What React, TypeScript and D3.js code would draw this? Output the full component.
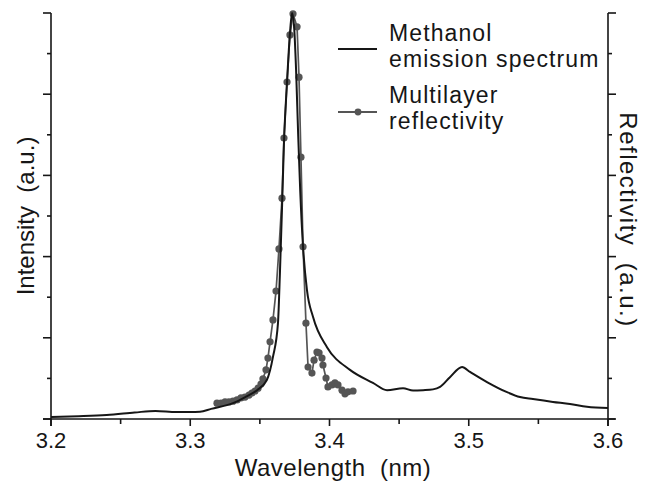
import React, { useEffect } from "react";
import * as d3 from "d3";

// methanol emission spectrum (wavelength nm, intensity a.u.)
const emissionWl = [
  3.2, 3.22, 3.24, 3.26, 3.275, 3.29, 3.3, 3.307, 3.315, 3.3307, 3.34, 3.348,
  3.355, 3.3594, 3.363, 3.3644, 3.3659, 3.3673, 3.3695, 3.3716, 3.3731, 3.3745,
  3.376, 3.3775, 3.379, 3.381, 3.3838, 3.3882, 3.3982, 3.4147, 3.4312, 3.4413,
  3.4528, 3.46, 3.4672, 3.4743, 3.4794, 3.4865, 3.4952, 3.5009, 3.5131,
  3.5275, 3.5368, 3.5461, 3.5605, 3.5727, 3.5849, 3.6,
];
const emissionVal = [
  0.05, 0.07, 0.1, 0.16, 0.2, 0.17, 0.17, 0.18, 0.25, 0.39, 0.55, 0.71,
  0.96, 1.53, 2.36, 3.6, 5.2, 6.8, 8.3, 9.5, 10.0, 9.7,
  8.6, 7.0, 5.6, 4.24, 3.18, 2.51, 1.77, 1.21, 0.89, 0.71,
  0.76, 0.7, 0.71, 0.73, 0.79, 1.03, 1.28, 1.16, 0.91,
  0.66, 0.54, 0.49, 0.42, 0.37, 0.3, 0.27,
];

// multilayer reflectivity (wavelength nm, reflectivity a.u.)
const reflWl = [
  3.3192, 3.3221, 3.325, 3.3278, 3.3307, 3.3336, 3.3364, 3.3393, 3.3422, 3.3443,
  3.3465, 3.3487, 3.3508, 3.3522, 3.3544, 3.3558, 3.3573, 3.3594, 3.3616, 3.3637,
  3.3659, 3.3673, 3.3695, 3.3716, 3.3738, 3.3767, 3.3781, 3.3795, 3.381, 3.3831,
  3.3846, 3.3874, 3.3889, 3.391, 3.3925, 3.3946, 3.3953, 3.3975, 3.3989, 3.4018,
  3.4039, 3.4061, 3.409, 3.4111, 3.4133, 3.4169,
];
const reflVal = [
  0.39, 0.39, 0.42, 0.42, 0.44, 0.47, 0.52, 0.54, 0.59, 0.64,
  0.69, 0.76, 0.86, 0.99, 1.21, 1.5, 1.9, 2.44, 3.15, 4.19,
  5.44, 6.92, 8.3, 9.46, 9.98, 9.66, 8.42, 6.45, 4.24, 2.36,
  1.28, 1.13, 1.45, 1.65, 1.63, 1.5, 1.33, 1.01, 0.79, 0.84,
  0.89, 0.84, 0.71, 0.62, 0.67, 0.69,
];

const xTickLabels = ["3.2", "3.3", "3.4", "3.5", "3.6"];
const legendLabels = [
  ["Methanol", "emission spectrum"],
  ["Multilayer", "reflectivity"],
];

const W = 650;
const H = 482;
const font = "'Liberation Sans', Arial, Helvetica, sans-serif";
const ink = "#161616";
const grey = "#555555";

const App = () => {
  useEffect(() => {
    document.body.style.margin = "0";
  }, []);

  const x = d3.scaleLinear().domain([3.2, 3.6]).range([51, 608]);
  const y = d3.scaleLinear().domain([0, 10]).range([419, 13]);

  const emission = emissionWl.map((w, i) => [w, emissionVal[i]]);
  const refl = reflWl.map((w, i) => [w, reflVal[i]]);

  const emissionLine = d3.line()
    .x(d => x(d[0]))
    .y(d => y(d[1]))
    .curve(d3.curveMonotoneX);
  const reflLine = d3.line()
    .x(d => x(d[0]))
    .y(d => y(d[1]));

  const xTicks = d3.range(0, 9).map(i => 3.2 + i * 0.05);
  const yTicks = d3.range(0, 11);
  const midY = (y(0) + y(10)) / 2;

  return (
    <svg width={W} height={H} style={{ display: "block", background: "#fff" }}>
      {/* axes */}
      <g stroke={ink} strokeWidth={1.6} fill="none">
        <line x1={43} x2={615} y1={y(0)} y2={y(0)} />
        <line x1={x(3.2)} x2={x(3.2)} y1={y(10)} y2={y(0) + 7} />
        <line x1={x(3.6)} x2={x(3.6)} y1={y(10)} y2={y(0) + 7} />
        {xTicks.map((t, i) => (
          <line key={"xt" + i} x1={x(t)} x2={x(t)} y1={y(0)} y2={y(0) + (i % 2 === 0 ? 7 : 5)} />
        ))}
        {yTicks.map(t => (
          <line key={"yl" + t} x1={x(3.2)} x2={x(3.2) - (t % 2 === 0 ? 8 : 4)} y1={y(t)} y2={y(t)} />
        ))}
        {yTicks.map(t => (
          <line key={"yr" + t} x1={x(3.6)} x2={x(3.6) + (t % 2 === 0 ? 8 : 4)} y1={y(t)} y2={y(t)} />
        ))}
      </g>

      {/* x tick labels */}
      <g fontFamily={font} fontSize={22} fill={ink} textAnchor="middle">
        {xTickLabels.map(l => (
          <text key={l} x={x(+l)} y={448}>{l}</text>
        ))}
      </g>

      {/* axis titles */}
      <text x={333} y={476} fontFamily={font} fontSize={24} letterSpacing={0.5} fill={ink} textAnchor="middle" style={{ whiteSpace: "pre" }}>
        {"Wavelength  (nm)"}
      </text>
      <text transform={`translate(34, ${midY}) rotate(-90)`} fontFamily={font} fontSize={24} fill={ink} textAnchor="middle" style={{ whiteSpace: "pre" }}>
        {"Intensity  (a.u.)"}
      </text>
      <text transform={`translate(620, ${midY + 4}) rotate(90)`} fontFamily={font} fontSize={24} letterSpacing={1.5} fill={ink} textAnchor="middle" style={{ whiteSpace: "pre" }}>
        {"Reflectivity  (a.u.)"}
      </text>

      {/* data */}
      <path d={reflLine(refl)} fill="none" stroke={grey} strokeWidth={1.7} />
      <g fill={grey}>
        {refl.map((d, i) => (
          <circle key={"r" + i} cx={x(d[0])} cy={y(d[1])} r={3.6} />
        ))}
      </g>
      <path d={emissionLine(emission)} fill="none" stroke={ink} strokeWidth={2} />

      {/* legend */}
      <line x1={338} x2={377} y1={49} y2={49} stroke={ink} strokeWidth={2} />
      <line x1={338} x2={377} y1={112} y2={112} stroke={grey} strokeWidth={2} />
      <circle cx={358} cy={112} r={3.4} fill={grey} />
      <g fontFamily={font} fontSize={23} letterSpacing={1.1} fill={ink}>
        <text x={389} y={41}>{legendLabels[0][0]}</text>
        <text x={389} y={67}>{legendLabels[0][1]}</text>
        <text x={389} y={103}>{legendLabels[1][0]}</text>
        <text x={389} y={129}>{legendLabels[1][1]}</text>
      </g>
    </svg>
  );
};

export default App;
